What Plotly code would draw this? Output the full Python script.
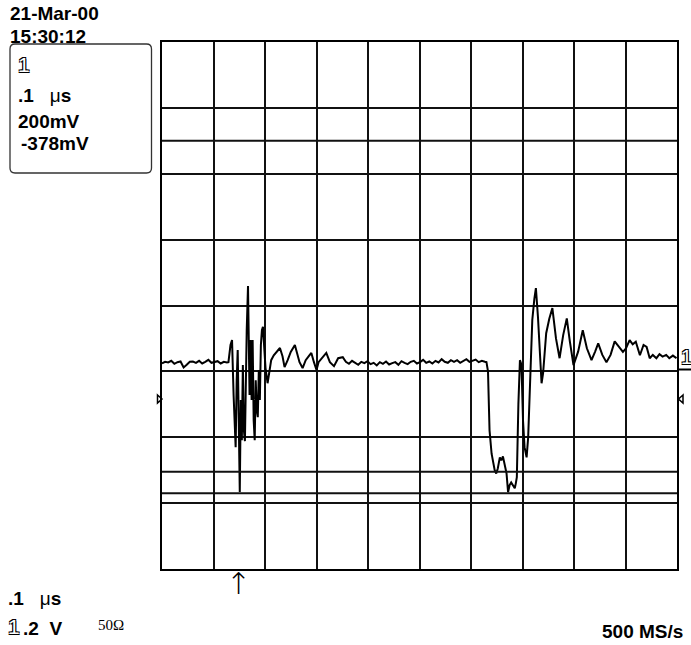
import plotly.graph_objects as go

# ---------------- data (time in ns, voltage in mV) ----------------
t_pre = [0, 6, 12, 18, 24, 30, 36, 42, 48, 54, 60, 66, 72, 78, 84, 90, 96, 102, 108, 114, 120, 126]
v_pre = [-176, -171, -173, -168, -177, -172, -170, -188, -180, -171, -170, -174, -168, -176, -171, -165,
         -174, -172, -169, -176, -171, -173]

t_burst = [129, 133, 136, 139, 141, 143, 145, 147, 149, 151, 153, 155, 157, 159, 161, 162.5, 164.5, 167,
           168, 170, 172, 174, 176, 178, 180, 182, 184, 186, 188, 190, 192, 194, 196, 198, 201, 205, 209,
           212, 217, 223, 229, 234, 238, 244, 250, 258, 264, 267, 273, 279, 285, 290, 295, 300, 304, 310,
           319, 326, 334, 342, 351]
v_burst = [-172, -120, -105, -272, -348, -430, -227, -135, -348, -566, -287, -409, -181, -379, -412, -166,
           -75, 59, -105, -272, -105, -287, -105, -348, -409, -227, -318, -339, -196, -287, -120, -75, -65,
           -120, -190, -236, -196, -166, -151, -141, -129, -154, -187, -166, -141, -120, -151, -172, -190,
           -166, -154, -144, -172, -196, -172, -160, -144, -172, -184, -160, -157]

t_mid = [357, 363, 369, 375, 381, 387, 393, 399, 405, 411, 417, 423, 429, 435, 441, 447, 453, 459, 465,
         471, 477, 483, 489, 495, 501, 507, 513, 519, 525, 531, 537, 543, 549, 555, 561, 567, 573, 579,
         585, 591, 597, 603, 609, 615, 621, 627]
v_mid = [-171, -177, -168, -174, -180, -171, -175, -169, -178, -174, -182, -172, -177, -170, -179, -175,
         -172, -180, -169, -174, -178, -171, -168, -176, -172, -165, -174, -170, -176, -168, -173, -163,
         -171, -174, -166, -171, -166, -174, -169, -163, -171, -167, -164, -172, -168, -171]

t_post = [630, 633, 636, 640, 643, 646, 649, 652, 656, 659, 662, 666, 669, 672, 675, 678, 682, 685, 687,
          689, 692, 695, 698, 701, 704, 708, 711, 714, 719, 723, 726, 730, 734, 737, 740, 743, 746, 752,
          758, 765, 772, 779, 786, 792, 799, 808, 817, 825, 834, 841, 847, 855, 863, 871, 879, 887, 895,
          901, 908, 914, 920, 928, 935, 941, 947, 953, 960, 966, 972, 979, 985, 992, 999]
v_post = [-172, -200, -379, -450, -479, -500, -510, -495, -461, -470, -458, -490, -510, -567, -545, -537,
          -548, -555, -540, -521, -300, -166, -180, -350, -430, -461, -400, -278, -44, 20, 53, -34, -150,
          -236, -205, -140, -84, -40, -8, -100, -160, -90, -39, -110, -181, -140, -75, -130, -166, -140,
          -115, -150, -172, -150, -109, -125, -141, -130, -105, -118, -110, -151, -120, -126, -160, -150,
          -160, -148, -155, -150, -160, -152, -160]

time_ns = t_pre + t_burst + t_mid + t_post
volt_mv = v_pre + v_burst + v_mid + v_post

cursor_levels_mv = [500, -505, -570]   # extra horizontal cursor lines
trigger_time_ns = 149

# ---------------- layout helpers ----------------
W, H = 691, 645
L, R, T, B = 162, 14, 42, 76
PW, PH = W - L - R, H - T - B


def px(x):
    return (x - L) / PW


def py(y):
    return (H - B - y) / PH


FONT = "Liberation Sans, Arial, sans-serif"
OUTLINE = "-1px -1px 0 #000, 1px -1px 0 #000, -1px 1px 0 #000, 1px 1px 0 #000"

fig = go.Figure()
fig.add_trace(go.Scatter(x=time_ns, y=volt_mv, mode="lines",
                         line=dict(color="#000", width=2), hoverinfo="skip"))

for lvl in cursor_levels_mv:
    fig.add_shape(type="line", xref="paper", x0=0, x1=1, yref="y", y0=lvl, y1=lvl,
                  line=dict(color="#111", width=2))

ann = []


def text(x, y, s, size=19, bold=True, anchor="left", family=FONT, color="#000", shadow=None):
    f = dict(family=family, size=size, color=color, weight=700 if bold else 400)
    if shadow:
        f["shadow"] = shadow
    ann.append(dict(xref="paper", yref="paper", x=px(x), y=py(y), text=s, showarrow=False,
                    xanchor=anchor, yanchor="middle", font=f))


text(8, 13.5, "21-Mar-00")
text(8, 37, "15:30:12")
text(16, 64, "1", size=21, bold=False, color="#fff", shadow=OUTLINE)
text(16, 96, ".1\u00a0\u00a0\u00a0<span style='font-weight:400'>\u03bc</span>s")
text(16, 121, "200mV")
text(19, 143.5, "-378mV")
text(6, 598.5, ".1\u00a0\u00a0\u00a0<span style='font-weight:400'>\u03bc</span>s")
text(6, 626, "1", size=21, bold=False, color="#fff", shadow=OUTLINE)
text(21, 628, ".2\u00a0\u00a0V")
text(96, 625, "50\u03a9", size=15, bold=False, family="Liberation Serif, serif")
text(685, 631, "500 MS/s", anchor="right")
text(678.5, 357, "1", size=20, bold=False, color="#fff", shadow=OUTLINE)

# trigger arrow under the grid
ann.append(dict(xref="x", yref="paper", x=trigger_time_ns, y=py(583), text="\u2191", showarrow=False,
                xanchor="center", yanchor="middle",
                font=dict(family="DejaVu Sans, sans-serif", size=30, color="#000", weight=300)))

fig.update_layout(annotations=ann)

# info box (rounded rectangle) and channel underline
x0, x1, y0, y1, r = px(10), px(151.5), py(44), py(173), 5
rx, ry = r / PW, r / PH
path = (f"M {x0 + rx} {y0} L {x1 - rx} {y0} Q {x1} {y0} {x1} {y0 - ry} "
        f"L {x1} {y1 + ry} Q {x1} {y1} {x1 - rx} {y1} L {x0 + rx} {y1} Q {x0} {y1} {x0} {y1 + ry} "
        f"L {x0} {y0 - ry} Q {x0} {y0} {x0 + rx} {y0} Z")
fig.add_shape(type="path", xref="paper", yref="paper", path=path,
              line=dict(color="#333", width=1.3))
fig.add_shape(type="line", xref="paper", yref="paper", x0=px(677), x1=px(691), y0=py(369.5),
              y1=py(369.5), line=dict(color="#000", width=2))

# trigger-level markers (open triangles) on both sides of the grid
for a, b in [(157.5, 162), (683, 678.5)]:
    tri = f"M {px(a)} {py(395)} L {px(b)} {py(399)} L {px(a)} {py(403)} Z"
    fig.add_shape(type="path", xref="paper", yref="paper", path=tri,
                  line=dict(color="#000", width=1.5))

axis_common = dict(showgrid=True, gridcolor="#111", gridwidth=2, zeroline=False, showline=True,
                   linecolor="#000", linewidth=2, mirror=True, showticklabels=False, ticks="",
                   fixedrange=True)
fig.update_xaxes(range=[0, 1000], dtick=100, tick0=0, **axis_common)
fig.update_yaxes(range=[-800, 800], dtick=200, tick0=0, **axis_common)

fig.update_layout(width=W, height=H, margin=dict(l=L, r=R, t=T, b=B, pad=0),
                  paper_bgcolor="#fff", plot_bgcolor="#fff", showlegend=False)

fig.write_html("out.html")
